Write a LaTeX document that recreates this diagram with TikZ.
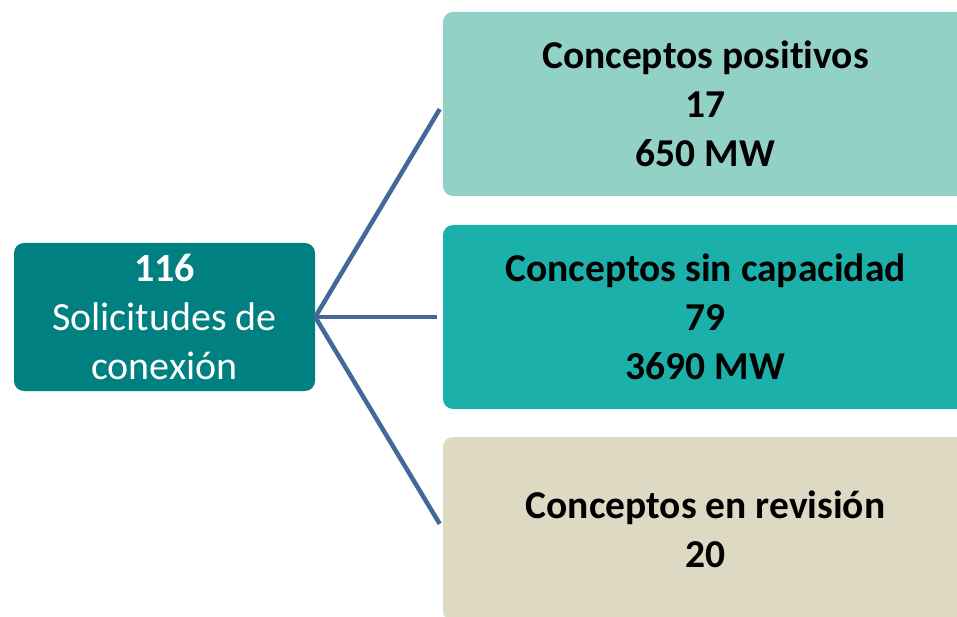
\documentclass[tikz,border=0pt]{standalone}
\usepackage{fontspec}
\setmainfont[Ligatures=NoCommon]{Carlito}
\usepackage{xcolor}
\usetikzlibrary{shapes,arrows}
\definecolor{rootteal}{RGB}{0,128,128}
\definecolor{paleteal}{RGB}{146,209,198}
\definecolor{midteal}{RGB}{28,176,170}
\definecolor{sand}{RGB}{221,217,195}
\definecolor{linkblue}{RGB}{67,104,153}
\tikzstyle{block} = [rectangle, rounded corners=10pt, text centered, align=center, inner sep=0pt, minimum width=525pt, minimum height=184pt, font=\fontsize{39.5}{49}\selectfont\bfseries]
\tikzstyle{root} = [rectangle, rounded corners=10pt, text centered, align=center, inner sep=0pt, fill=rootteal, text=white, minimum width=301pt, minimum height=148pt, font=\fontsize{40}{49}\selectfont]
\tikzstyle{line} = [draw, color=linkblue, line width=4.5pt, shorten >=6pt]

\begin{document}
\begin{tikzpicture}[x=1pt,y=1pt]
\path [use as bounding box, clip] (0,0) rectangle (957,616);
\node [root] (req) at (164.5,299) {\textbf{116}\\Solicitudes de\\conexión};
\node [block, fill=paleteal] (pos) at (705.5,512) {Conceptos positivos\\17\\650 MW};
\node [block, fill=midteal] (sincap) at (705.5,299) {Conceptos sin capacidad\\79\\3690 MW};
\node [block, fill=sand] (rev) at (705.5,87) {Conceptos en revisión\\20};
\path [line] (req.east) -- (pos.west);
\path [line] (req.east) -- (sincap.west);
\path [line] (req.east) -- (rev.west);
\end{tikzpicture}
\end{document}
